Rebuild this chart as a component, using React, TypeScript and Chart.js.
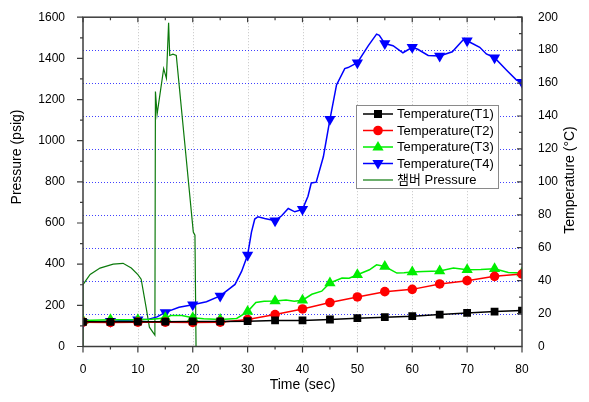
import React, { useEffect, useRef } from "react";
import { Chart, registerables } from "chart.js";
Chart.register(...registerables);

const FONT = "'Liberation Sans', Arial, 'Noto Sans CJK KR', sans-serif";

// Time axis ticks
const xTicks = [0, 10, 20, 30, 40, 50, 60, 70, 80];
const pressureTicks = [0, 200, 400, 600, 800, 1000, 1200, 1400, 1600];
const tempTicks = [0, 20, 40, 60, 80, 100, 120, 140, 160, 180, 200];

// Temperature(T1)
const t1Time = [0, 5, 10, 15, 20, 25, 30, 35, 40, 45, 50, 55, 60, 65, 70, 75, 80];
const t1Temp = [15.0, 15.0, 15.1, 15.1, 15.2, 15.2, 15.4, 15.8, 15.8, 16.4, 17.2, 17.8, 18.4, 19.4, 20.4, 21.2, 21.8];

// Temperature(T2)
const t2Time = [0, 5, 10, 15, 20, 25, 30, 35, 40, 45, 50, 55, 60, 65, 70, 75, 80];
const t2Temp = [14.8, 14.6, 14.8, 14.8, 14.6, 14.8, 16.4, 19.4, 22.8, 26.7, 30.1, 33.3, 34.7, 38.0, 40.0, 42.6, 44.0];

// Temperature(T3)
const t3Time = [0, 5, 10, 12.5, 14, 15, 16, 18, 20, 22, 25, 28, 30, 31.5, 33, 35, 37, 38.5, 40, 41.7, 43.5, 45, 47.2, 48.5, 50, 52.2, 53.5, 55, 57.2, 58.5, 60, 62, 65, 67.5, 70, 72.5, 75, 77.5, 80];
const t3Temp = [15.8, 16.3, 16.3, 16.5, 17.0, 17.4, 18.8, 18.8, 17.4, 16.8, 16.4, 17.0, 21.2, 26.7, 27.5, 27.7, 28.2, 27.5, 28.1, 31.7, 33.6, 38.6, 41.6, 41.5, 43.6, 46.6, 49.6, 48.6, 44.6, 44.8, 45.2, 45.6, 45.8, 47.6, 46.6, 46.8, 47.2, 45.0, 44.6];

// Temperature(T4)
const t4Time = [0, 5, 10, 12, 13.5, 15, 17.5, 20, 22.5, 25, 27.7, 28.9, 30, 30.7, 31.3, 31.9, 33.1, 35, 36.2, 37.4, 38.6, 40, 41, 41.6, 42.5, 43.8, 45, 46.2, 47.7, 48.3, 50, 52, 53.5, 54, 55, 56.5, 58.3, 60, 61, 62.9, 65, 67.3, 69.5, 70, 72.3, 73.5, 75, 77.2, 79, 80];
const t4Temp = [14.8, 15.4, 16.2, 16.6, 18.0, 20.7, 23.8, 25.3, 27.2, 30.7, 37.7, 45.6, 55.6, 69.5, 77.4, 78.8, 77.8, 76.4, 79.4, 83.8, 81.8, 83.3, 91.3, 99.3, 99.8, 115.2, 138.0, 158.9, 168.8, 169.4, 172.4, 182.7, 189.7, 189.0, 184.0, 182.7, 178.4, 181.7, 180.5, 176.8, 176.4, 179.0, 187.0, 185.7, 181.7, 177.7, 175.4, 167.8, 161.8, 160.5];

// 챔버 Pressure
const pTime = [0, 0, 1.3, 3.1, 5.5, 7.3, 8.8, 10, 10.6, 11.5, 12.1, 13.1, 13.2, 13.5, 14.7, 15.2, 15.6, 15.8, 16.4, 17, 18.5, 20.1, 20.4, 20.6, 22];
const pValue = [0, 301, 350, 381, 400, 404, 381, 349, 327, 190, 94, 55, 1239, 1128, 1350, 1303, 1573, 1414, 1420, 1414, 1000, 556, 541, 0, 0];

const series = [
  { label: "Temperature(T1)", time: t1Time, values: t1Temp, color: "#000000", style: "rect", radius: 5.5, rotation: 0 },
  { label: "Temperature(T2)", time: t2Time, values: t2Temp, color: "#ff0000", style: "circle", radius: 4.8, rotation: 0 },
  { label: "Temperature(T3)", time: t3Time, values: t3Temp, color: "#00ee00", style: "triangle", radius: 6.5, rotation: 0 },
  { label: "Temperature(T4)", time: t4Time, values: t4Temp, color: "#0000ff", style: "triangle", radius: 6.5, rotation: 180 },
];
const pressureColor = "#0c7a0c";
const pressureLabel = "챔버 Pressure";

function toPts(time: number[], values: number[]) {
  return time.map((t, i) => ({ x: t, y: values[i] }));
}

const decorPlugin = {
  id: "decor",
  beforeDatasetsDraw(chart: any) {
    const { ctx, chartArea: a, scales } = chart;
    const x = scales.x, y2 = scales.y2;
    ctx.save();
    ctx.lineWidth = 1;
    ctx.setLineDash([1, 2]);
    ctx.strokeStyle = "#c4c4c4";
    for (const t of xTicks) {
      if (t === 0 || t === 80) continue;
      const px = Math.round(x.getPixelForValue(t)) + 0.5;
      ctx.beginPath();
      ctx.moveTo(px, a.top);
      ctx.lineTo(px, a.bottom);
      ctx.stroke();
    }
    ctx.strokeStyle = "rgba(30,30,255,0.85)";
    for (const v of tempTicks) {
      if (v === 0 || v === 200) continue;
      const py = Math.round(y2.getPixelForValue(v)) + 0.5;
      ctx.beginPath();
      ctx.moveTo(a.left, py);
      ctx.lineTo(a.right, py);
      ctx.stroke();
    }
    ctx.restore();
  },
  afterDraw(chart: any) {
    const { ctx, chartArea: a, scales } = chart;
    const x = scales.x, y = scales.y, y2 = scales.y2;
    ctx.save();
    ctx.setLineDash([]);
    ctx.strokeStyle = "#3c3c3c";
    ctx.lineWidth = 1.5;
    ctx.strokeRect(a.left, a.top, a.right - a.left, a.bottom - a.top);
    ctx.lineWidth = 1.2;
    ctx.beginPath();
    for (let t = 0; t <= 80; t += 5) {
      const px = x.getPixelForValue(t);
      const major = t % 10 === 0;
      ctx.moveTo(px, a.bottom);
      ctx.lineTo(px, a.bottom + (major ? 6 : 3));
      ctx.moveTo(px, a.top);
      ctx.lineTo(px, a.top + (major ? 5 : 3));
    }
    for (let p = 0; p <= 1600; p += 100) {
      const py = y.getPixelForValue(p);
      const major = p % 200 === 0;
      ctx.moveTo(a.left, py);
      ctx.lineTo(a.left - (major ? 6 : 3), py);
    }
    for (let v = 0; v <= 200; v += 10) {
      const py = y2.getPixelForValue(v);
      const major = v % 20 === 0;
      ctx.moveTo(a.right, py);
      ctx.lineTo(a.right - (major ? 5 : 3), py);
    }
    ctx.stroke();

    // axis titles
    ctx.fillStyle = "#000";
    ctx.font = `14px ${FONT}`;
    ctx.textAlign = "center";
    ctx.textBaseline = "middle";
    ctx.fillText("Time (sec)", (a.left + a.right) / 2, 385);
    ctx.save();
    ctx.translate(17, 157);
    ctx.rotate(-Math.PI / 2);
    ctx.fillText("Pressure (psig)", 0, 0);
    ctx.restore();
    ctx.save();
    ctx.translate(570, 180);
    ctx.rotate(-Math.PI / 2);
    ctx.fillText("Temperature (°C)", 0, 0);
    ctx.restore();

    // legend
    const bx = 356, by = 105, bw = 142, bh = 83;
    ctx.fillStyle = "#fff";
    ctx.fillRect(bx, by, bw, bh);
    ctx.strokeStyle = "#8a8a8a";
    ctx.lineWidth = 1;
    ctx.strokeRect(bx + 0.5, by + 0.5, bw, bh);
    const rowY = [114, 130.5, 147, 163.5, 180];
    ctx.font = `13px ${FONT}`;
    ctx.textAlign = "left";
    ctx.textBaseline = "middle";
    series.forEach((s, i) => {
      const ry = rowY[i];
      ctx.strokeStyle = s.color;
      ctx.lineWidth = 1.5;
      ctx.beginPath();
      ctx.moveTo(363, ry);
      ctx.lineTo(393, ry);
      ctx.stroke();
      ctx.fillStyle = s.color;
      ctx.beginPath();
      if (s.style === "rect") {
        ctx.rect(378 - 4, ry - 4, 8, 8);
      } else if (s.style === "circle") {
        ctx.arc(378, ry, 4.8, 0, Math.PI * 2);
      } else if (s.rotation === 0) {
        ctx.moveTo(378, ry - 6);
        ctx.lineTo(378 + 5.6, ry + 3.5);
        ctx.lineTo(378 - 5.6, ry + 3.5);
        ctx.closePath();
      } else {
        ctx.moveTo(378, ry + 6);
        ctx.lineTo(378 + 5.6, ry - 3.5);
        ctx.lineTo(378 - 5.6, ry - 3.5);
        ctx.closePath();
      }
      ctx.fill();
      ctx.fillStyle = "#000";
      ctx.fillText(s.label, 397, ry + 0.5);
    });
    ctx.strokeStyle = pressureColor;
    ctx.lineWidth = 1.2;
    ctx.beginPath();
    ctx.moveTo(363, rowY[4]);
    ctx.lineTo(393, rowY[4]);
    ctx.stroke();
    ctx.fillStyle = "#000";
    ctx.fillText(pressureLabel, 397, rowY[4] + 0.5);
    ctx.restore();
  },
};

export default function App() {
  const ref = useRef<HTMLCanvasElement | null>(null);
  useEffect(() => {
    if (!ref.current) return;
    const datasets: any[] = series.map((s) => ({
      label: s.label,
      data: toPts(s.time, s.values),
      yAxisID: "y2",
      borderColor: s.color,
      backgroundColor: s.color,
      borderWidth: 1.5,
      pointStyle: s.style,
      rotation: s.rotation,
      pointBorderWidth: 0,
      pointRadius: (c: any) => {
        const t = c.raw ? c.raw.x : 0;
        return Math.abs(t / 5 - Math.round(t / 5)) < 1e-6 ? s.radius : 0;
      },
      tension: 0,
    }));
    datasets.push({
      label: pressureLabel,
      data: toPts(pTime, pValue),
      yAxisID: "y",
      borderColor: pressureColor,
      backgroundColor: pressureColor,
      borderWidth: 1.2,
      pointRadius: 0,
      tension: 0,
    });
    const tickFont = { family: FONT, size: 12 };
    const plain = (v: any) => String(v);
    const chart = new Chart(ref.current, {
      type: "line",
      data: { datasets },
      options: {
        responsive: false,
        animation: false,
        events: [],
        layout: { padding: { top: 11, left: 0, right: 0, bottom: 0 } },
        plugins: { legend: { display: false }, tooltip: { enabled: false } },
        scales: {
          x: {
            type: "linear",
            min: 0,
            max: 80,
            grid: { display: false },
            border: { display: false },
            afterBuildTicks: (sc: any) => { sc.ticks = xTicks.map((v) => ({ value: v })); },
            afterFit: (sc: any) => { sc.height = 55.5; },
            ticks: { autoSkip: false, maxRotation: 0, padding: 8, color: "#000", font: tickFont, callback: plain },
          },
          y: {
            type: "linear",
            position: "left",
            min: 0,
            max: 1600,
            grid: { display: false },
            border: { display: false },
            afterBuildTicks: (sc: any) => { sc.ticks = pressureTicks.map((v) => ({ value: v })); },
            afterFit: (sc: any) => { sc.width = 83; },
            ticks: { autoSkip: false, padding: 10, color: "#000", font: tickFont, callback: plain },
          },
          y2: {
            type: "linear",
            position: "right",
            min: 0,
            max: 200,
            grid: { display: false },
            border: { display: false },
            afterBuildTicks: (sc: any) => { sc.ticks = tempTicks.map((v) => ({ value: v })); },
            afterFit: (sc: any) => { sc.width = 67; },
            ticks: { autoSkip: false, padding: 8, color: "#000", font: tickFont, callback: plain },
          },
        },
      },
      plugins: [decorPlugin],
    } as any);
    return () => chart.destroy();
  }, []);
  return (
    <div style={{ position: "fixed", left: 0, top: 0, width: 589, height: 402, background: "#fff" }}>
      <canvas ref={ref} width={589} height={402} style={{ display: "block", width: 589, height: 402 }} />
    </div>
  );
}
